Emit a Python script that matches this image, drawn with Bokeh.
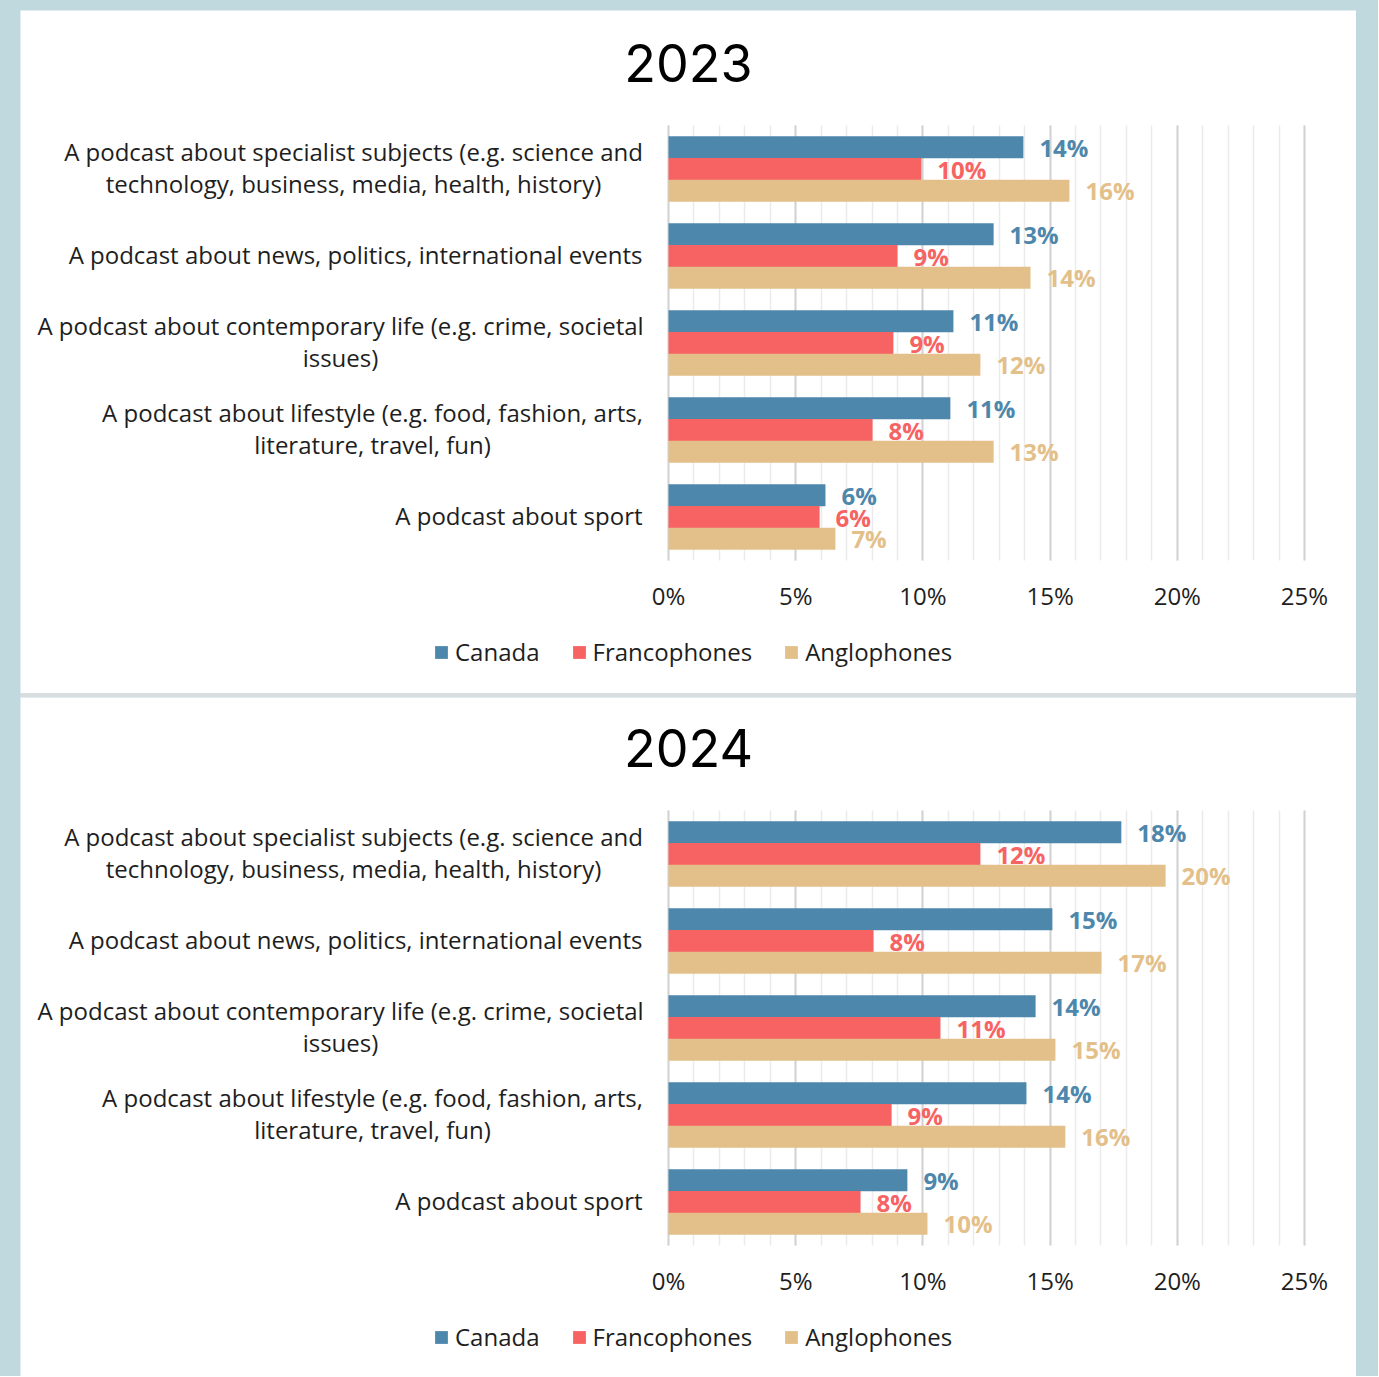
from bokeh.plotting import figure
from bokeh.models import (ColumnDataSource, Label, Legend, LegendItem, Range1d,
                          FixedTicker, Spacer)
from bokeh.layouts import column, row
from bokeh.embed import file_html
from bokeh.resources import INLINE
from bokeh.core.properties import value

# ---------------- data ----------------
categories = [
    ["A podcast about specialist subjects (e.g. science and",
     "technology, business, media, health, history)"],
    ["A podcast about news, politics, international events"],
    ["A podcast about contemporary life (e.g. crime, societal", "issues)"],
    ["A podcast about lifestyle (e.g. food, fashion, arts,",
     "literature, travel, fun)"],
    ["A podcast about sport"],
]
series = ["Canada", "Francophones", "Anglophones"]

canada_2023 = [13.95, 12.78, 11.2, 11.08, 6.17]
franco_2023 = [9.94, 9.0, 8.84, 8.02, 5.94]
anglo_2023 = [15.76, 14.23, 12.26, 12.78, 6.56]

canada_2024 = [17.8, 15.09, 14.43, 14.07, 9.39]
franco_2024 = [12.26, 8.06, 10.69, 8.77, 7.55]
anglo_2024 = [19.54, 17.02, 15.21, 15.6, 10.18]

x_ticks = [0, 5, 10, 15, 20, 25]
x_tick_labels = ["0%", "5%", "10%", "15%", "20%", "25%"]
x_minor_ticks = list(range(0, 26))

# ---------------- style / layout ----------------
COLORS = ["#4e87ac", "#f76363", "#e3c08a"]
TEXT = "#1e1e1e"
FONT = "Open Sans"
BG = "#c0d9de"

PANEL_W = 1336
ZERO_PX = 648                 # x pixel (inside panel) of the 0% line
PX_PER_UNIT = 636 / 25.0      # horizontal pixels per percentage point
BAND_PX = 87.0                # vertical pixels per category band
AREA_H = 5 * BAND_PX
X_START = -ZERO_PX / PX_PER_UNIT
X_END = (PANEL_W - ZERO_PX) / PX_PER_UNIT

LABEL_RIGHT = -26
LABEL_CENTERS = [-315, None, -328, -296, None]


def make_panel(year, vals, height, top_px):
    bottom_px = height - top_px - AREA_H
    p = figure(width=PANEL_W, height=height, output_backend="svg",
               toolbar_location=None, y_axis_location=None, title=None,
               x_range=Range1d(X_START, X_END),
               y_range=Range1d(-0.5 - bottom_px / BAND_PX,
                               4.5 + top_px / BAND_PX),
               min_border=0,
               background_fill_color="white", border_fill_color="white",
               outline_line_color=None)
    n = len(categories)
    ypos = [n - 1 - i for i in range(n)]
    offsets = [0.25, 0.0, -0.25]

    # grid (limited to the bar area)
    p.xgrid.ticker = FixedTicker(ticks=x_ticks, minor_ticks=x_minor_ticks)
    p.ygrid.grid_line_color = None
    g = p.xgrid[0]
    if "cross_bounds" in g.properties():
        g.cross_bounds = (-0.5, 4.5)
        g.grid_line_color = "#d2d2d2"
        g.grid_line_width = 2
        g.minor_grid_line_color = "#ebebeb"
        g.minor_grid_line_width = 1.5
    else:
        g.grid_line_color = None
        minor = [t for t in x_minor_ticks if t not in x_ticks]
        p.segment(x0=minor, x1=minor, y0=-0.5, y1=4.5,
                  line_color="#ebebeb", line_width=1.5)
        p.segment(x0=x_ticks, x1=x_ticks, y0=-0.5, y1=4.5,
                  line_color="#d2d2d2", line_width=2)

    renderers = []
    for s, v, c, off in zip(series, vals, COLORS, offsets):
        src = ColumnDataSource(dict(
            y=[y + off for y in ypos], right=v,
            lab=[f"{round(x)}%" for x in v]))
        r = p.hbar(y="y", left=0, right="right", height=0.252, source=src,
                   fill_color=c, line_color=None)
        renderers.append(r)
        p.text(x="right", y="y", text="lab", source=src, x_offset=16,
               text_align="left", text_baseline="middle",
               text_font=value(FONT), text_font_style="bold",
               text_font_size="24px", text_color=c)

    # x axis drawn at the bottom of the bar area
    ax = p.xaxis[0]
    ax.fixed_location = -0.5
    ax.ticker = FixedTicker(ticks=x_ticks, minor_ticks=x_minor_ticks)
    ax.major_label_overrides = {t: l for t, l in zip(x_ticks, x_tick_labels)}
    ax.axis_line_color = None
    ax.major_tick_line_color = None
    ax.minor_tick_line_color = None
    ax.major_tick_out = 0
    ax.minor_tick_out = 0
    ax.major_label_standoff = 18
    ax.major_label_text_font = FONT
    ax.major_label_text_font_size = "24px"
    ax.major_label_text_color = TEXT

    # title
    p.add_layout(Label(x=0, y=4.5, x_offset=20, y_offset=63, text=year,
                       text_align="center", text_baseline="middle",
                       text_font="Inter", text_font_size="52px",
                       text_color="#000000"))

    # category labels
    for lines, yc, cx in zip(categories, ypos, LABEL_CENTERS):
        nl = len(lines)
        for j, line in enumerate(lines):
            dy = (nl - 1) * 16 - j * 32 + 2
            p.add_layout(Label(x=0, y=yc,
                               x_offset=LABEL_RIGHT if cx is None else cx,
                               y_offset=dy, text=line,
                               text_align="right" if cx is None else "center",
                               text_baseline="middle", text_font=FONT,
                               text_font_size="24px", text_color=TEXT))

    legend = Legend(items=[LegendItem(label=s, renderers=[r])
                           for s, r in zip(series, renderers)],
                    location=(413, int(bottom_px) - 108),
                    orientation="horizontal",
                    glyph_width=16, glyph_height=16, label_standoff=6,
                    spacing=31, padding=0, margin=0,
                    border_line_color=None, background_fill_alpha=0,
                    label_text_font=FONT, label_text_font_size="24px",
                    label_text_color=TEXT)
    p.add_layout(legend)
    return p


p1 = make_panel("2023", [canada_2023, franco_2023, anglo_2023], 683, 115)
p2 = make_panel("2024", [canada_2024, franco_2024, anglo_2024], 679, 113)

gap = Spacer(width=PANEL_W, height=4, styles={"background-color": "#d8dddf"})
inner = column(p1, gap, p2)
layout = column(
    Spacer(width=1378, height=10),
    row(Spacer(width=20, height=1366), inner, Spacer(width=22, height=1366)),
    styles={"background-color": BG},
)

open("out.html", "w").write(file_html(layout, INLINE))
